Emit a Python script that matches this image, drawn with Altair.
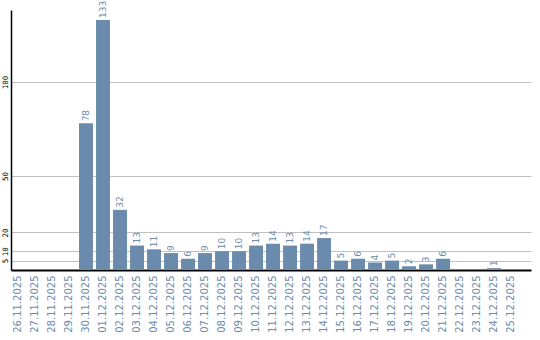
import altair as alt
import pandas as pd

dates = ["26.11.2025", "27.11.2025", "28.11.2025", "29.11.2025", "30.11.2025",
         "01.12.2025", "02.12.2025", "03.12.2025", "04.12.2025", "05.12.2025",
         "06.12.2025", "07.12.2025", "08.12.2025", "09.12.2025", "10.12.2025",
         "11.12.2025", "12.12.2025", "13.12.2025", "14.12.2025", "15.12.2025",
         "16.12.2025", "17.12.2025", "18.12.2025", "19.12.2025", "20.12.2025",
         "21.12.2025", "22.12.2025", "23.12.2025", "24.12.2025", "25.12.2025"]
counts = [0, 0, 0, 0, 78, 133, 32, 13, 11, 9, 6, 9, 10, 10, 13, 14, 13, 14, 17,
          5, 6, 4, 5, 2, 3, 6, 0, 0, 1, 0]
y_ticks = [5, 10, 20, 50, 100]

df = pd.DataFrame({"date": dates, "count": counts})
blue = "#6a8bab"

x_enc = alt.X("date:N", sort=dates, title=None,
              scale=alt.Scale(paddingInner=0.18, paddingOuter=0.38, align=0),
              axis=alt.Axis(labelAngle=-90, labelAlign="right", labelBaseline="middle",
                            labelColor=blue, labelFont="DejaVu Sans", labelFontSize=10,
                            labelPadding=5, ticks=False, domainColor="#000000",
                            domainWidth=2, grid=False))
y_scale = alt.Scale(domain=[0, 138.3], nice=False, zero=True)

bars = alt.Chart(df).mark_bar(color=blue).encode(
    x=x_enc,
    y=alt.Y("count:Q", scale=y_scale, title=None,
            axis=alt.Axis(values=y_ticks, labelAngle=-90, labelAlign="center",
                          labelBaseline="bottom", labelFont="DejaVu Sans Mono",
                          labelFontSize=7.5, labelColor="#000000", labelPadding=2,
                          ticks=False, domainColor="#000000", domainWidth=1.5,
                          grid=True, gridColor="#c0c0c0", gridWidth=1)),
)

labels = alt.Chart(df).transform_filter(alt.datum.count > 0).mark_text(
    angle=270, align="left", baseline="middle", dx=2, color=blue,
    font="DejaVu Sans", fontSize=9,
).encode(
    x=alt.X("date:N", sort=dates),
    y=alt.Y("count:Q", scale=y_scale),
    text="count:Q",
)

chart = (bars + labels).properties(
    width=520, height=260,
    autosize=alt.AutoSizeParams(type="none"),
    padding={"left": 11, "top": 10, "right": 9, "bottom": 70},
).configure_view(stroke=None)

chart.save("out.html", embed_options={"renderer": "svg", "actions": False})
